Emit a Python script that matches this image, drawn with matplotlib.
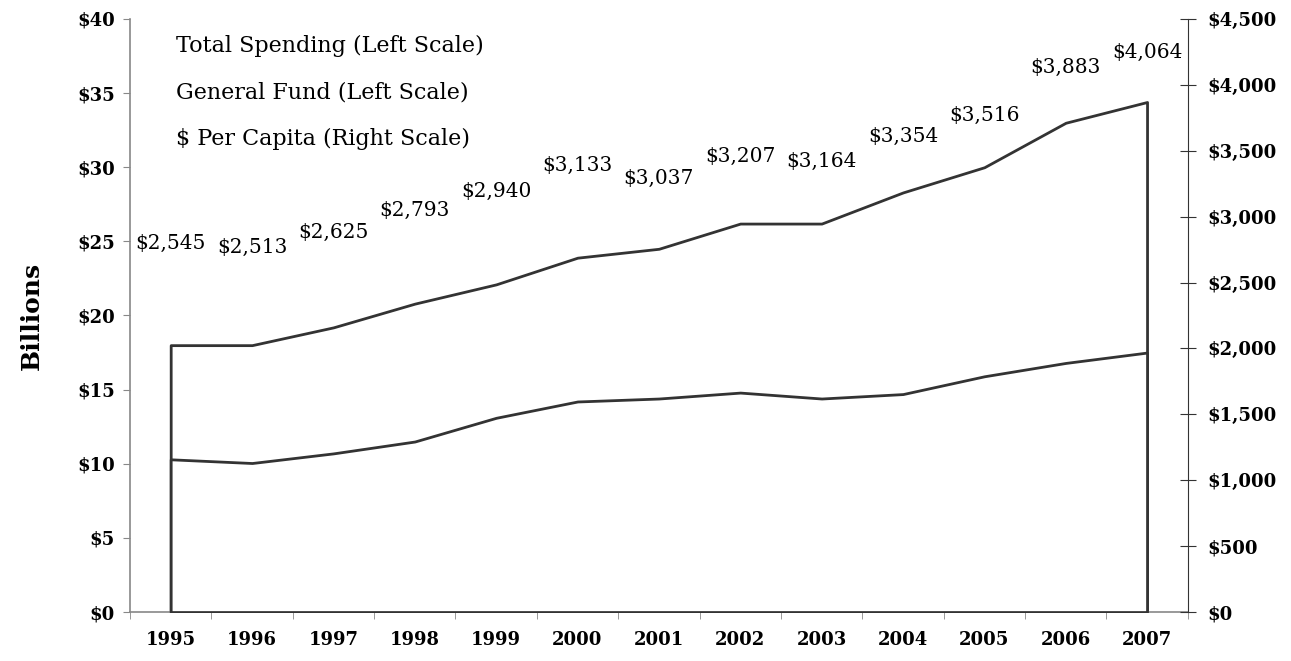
import matplotlib.pyplot as plt
import numpy as np

# data
years = ['1995', '1996', '1997', '1998', '1999', '2000', '2001',
         '2002', '2003', '2004', '2005', '2006', '2007']
total_spending = [18.0, 18.0, 19.2, 20.8, 22.1, 23.9, 24.5, 26.2, 26.2, 28.3, 30.0, 33.0, 34.4]
general_fund = [10.3, 10.05, 10.7, 11.5, 13.1, 14.2, 14.4, 14.8, 14.4, 14.7, 15.9, 16.8, 17.5]
per_capita = [2545, 2513, 2625, 2793, 2940, 3133, 3037, 3207, 3164, 3354, 3516, 3883, 4064]

left_ticks = [0, 5, 10, 15, 20, 25, 30, 35, 40]
right_ticks = [0, 500, 1000, 1500, 2000, 2500, 3000, 3500, 4000, 4500]

plt.rcParams['font.family'] = 'DejaVu Serif'

fig = plt.figure(figsize=(12.91, 6.61), dpi=100)
ax = fig.add_axes([0.1007, 0.0741, 0.8193, 0.8972])
ax2 = ax.twinx()

x = np.arange(len(years))

# areas: white fill, dark outline
ax.fill_between(x, 0, total_spending, facecolor='white', edgecolor='#333333', linewidth=2, zorder=2)
ax.fill_between(x, 0, general_fund, facecolor='white', edgecolor='#333333', linewidth=2, zorder=3)

ax.set_xlim(-0.5, len(years) - 0.5)
ax.set_ylim(0, 40)
ax2.set_ylim(0, 4500)

# per capita labels (right scale), last one sits a bit lower near the top
for i, v in enumerate(per_capita):
    off = 17 if i == len(per_capita) - 1 else 24
    ax2.annotate('${:,}'.format(v), (i, v), xytext=(0, off), textcoords='offset points',
                 ha='center', va='center', fontsize=14.5, color='black')

# left axis
ax.set_yticks(left_ticks)
ax.set_yticklabels(['${}'.format(t) for t in left_ticks], fontsize=13, fontweight='bold')
ax.tick_params(axis='y', which='major', length=5, color='#888888', pad=6)
ax.set_ylabel('Billions', fontsize=18, fontweight='bold', labelpad=24)

# x axis: labels at categories, ticks at boundaries
ax.set_xticks(x)
ax.set_xticklabels(years, fontsize=13, fontweight='bold')
ax.set_xticks(np.arange(-0.5, len(years)), minor=True)
ax.tick_params(axis='x', which='major', length=0, pad=14)
ax.tick_params(axis='x', which='minor', length=5, color='#888888')

for s in ['top', 'right']:
    ax.spines[s].set_visible(False)
ax.spines['left'].set_color('#888888')
ax.spines['bottom'].set_color('#888888')
ax.spines['left'].set_linewidth(1.2)
ax.spines['bottom'].set_linewidth(1.2)

# right axis
for s in ['top', 'left', 'bottom']:
    ax2.spines[s].set_visible(False)
ax2.spines['right'].set_color('#333333')
ax2.set_yticks(right_ticks)
ax2.set_yticklabels(['${:,}'.format(t) for t in right_ticks], fontsize=13, fontweight='bold')
ax2.tick_params(axis='y', direction='inout', length=12, color='#333333', pad=8)

# legend with text only
h1, = ax.plot([], [], color='white')
h2, = ax.plot([], [], color='white')
h3, = ax.plot([], [], color='white')
leg = ax.legend([h1, h2, h3],
                ['Total Spending (Left Scale)', 'General Fund (Left Scale)', '$ Per Capita (Right Scale)'],
                loc='upper left', bbox_to_anchor=(0.029, 1.0), frameon=False, fontsize=16,
                handlelength=0, handletextpad=0, borderpad=0.2, labelspacing=1.1)

fig.savefig('out.png', dpi=100)
